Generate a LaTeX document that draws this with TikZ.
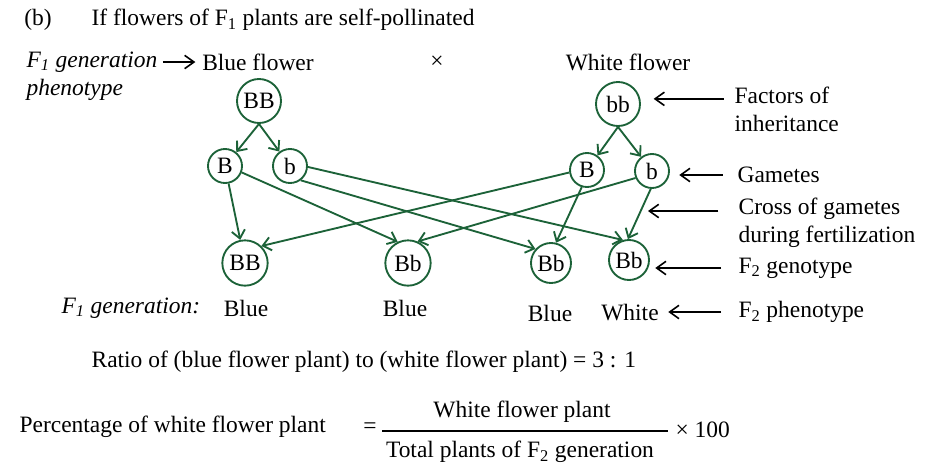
\documentclass[tikz,border=0pt]{standalone}
\usepackage{fontspec}
\setmainfont{LiberationSerif}[Extension=.ttf, UprightFont=*-Regular, ItalicFont=*-Italic, BoldFont=*-Bold, BoldItalicFont=*-BoldItalic]
\usetikzlibrary{arrows.meta,positioning}
\definecolor{gengreen}{RGB}{28,98,56}

\begin{document}
\fontsize{17.6}{21}\selectfont
\begin{tikzpicture}[x=0.75pt, y=-0.75pt,
    every node/.style={inner sep=1pt},
    allele/.style={circle, draw=gengreen, line width=1.4pt, inner sep=0pt, minimum size=#1},
    allele/.default=33pt,
    cross/.style={draw=gengreen, line width=1.4pt, -{Straight Barb[length=6pt,width=10pt]}},
    pointer/.style={line width=1.2pt, -{Straight Barb[length=7pt,width=10pt]}},
    lbl/.style={anchor=west}]
    \useasboundingbox (0,0) rectangle (926,472);

    % heading
    \node (part) at (38,20) {(b)};
    \node[lbl] (title) at (90,20) {If flowers of F\textsubscript{1} plants are self-pollinated};

    % parents
    \node[lbl, font=\itshape] (f1lab) at (25,62) {F\textsubscript{1} generation};
    \node[lbl, font=\itshape] (phen) at (25,90) {phenotype};
    \node (blueflw) at (258,62) {Blue flower};
    \node (times) at (437,62) {×};
    \node (whiteflw) at (628,62) {White flower};
    \node[allele] (pBB) at (259,101) {BB};
    \node[allele] (pbb) at (618,104) {bb};

    % gametes
    \node[allele=25.5pt] (gB1) at (225,166) {B};
    \node[allele=25.5pt] (gb1) at (290,166) {b};
    \node[allele=25.5pt] (gB2) at (587,170) {B};
    \node[allele=25.5pt] (gb2) at (652,171) {b};

    % offspring
    \node[allele=34pt] (oBB) at (245,263) {BB};
    \node[allele=34pt] (oBb1) at (408,263) {Bb};
    \node[allele=30pt] (oBb2) at (551,263) {Bb};
    \node[allele=30pt] (oBb3) at (629,260) {Bb};

    % gamete formation
    \draw[cross] (pBB.south) -- (gB1);
    \draw[cross] (pBB.south) -- (gb1);
    \draw[cross] (pbb.south) -- (gB2);
    \draw[cross] (pbb.south) -- (gb2);

    % fertilization
    \draw[cross] (gB1) -- (oBB);
    \draw[cross] (gB1.-21) -- (oBb1.116);
    \draw[cross] (gb1.-3) -- (oBb3.107);
    \draw[cross] (gb1.-53) -- (oBb2.138);
    \draw[cross] (gB2.188) -- (oBB.46);
    \draw[cross] (gB2.-107) -- (oBb2.76);
    \draw[cross] (gb2.203) -- (oBb1.66);
    \draw[cross] (gb2.-94) -- (oBb3.93);

    % side labels
    \node[anchor=north west, align=left] (factors) at (733,85) {Factors of\\inheritance};
    \node[lbl] (gametes) at (736,175) {Gametes};
    \node[anchor=north west, align=left] (crosslab) at (737,196) {Cross of gametes\\during fertilization};
    \node[lbl] (f2geno) at (737,268) {F\textsubscript{2} genotype};
    \coordinate (crossTip) at (648,211);

    % phenotypes
    \node[lbl, font=\itshape] (f1gen) at (60,308) {F\textsubscript{1} generation:};
    \node (ph1) at (246,308) {Blue};
    \node (ph2) at (405,308) {Blue};
    \node (ph3) at (550,313) {Blue};
    \node (ph4) at (630,313) {White};
    \node[lbl] (f2pheno) at (737,312) {F\textsubscript{2} phenotype};

    % pointers
    \draw[pointer, shorten <=3pt, shorten >=4pt] (f1lab.east) -- (f1lab.east -| blueflw.west);
    \draw[pointer, shorten <=7pt, shorten >=10pt] (factors.west |- pbb.13) -- (pbb.13);
    \draw[pointer, shorten <=10pt, shorten >=7pt] (gametes.west) -- (gametes.west -| gb2.east);
    \draw[pointer, shorten <=14pt] (crosslab.north west |- crossTip) -- (crossTip);
    \draw[pointer, shorten <=12pt, shorten >=4pt] (f2geno.west) -- (f2geno.west -| oBb3.east);
    \draw[pointer, shorten <=12pt, shorten >=6pt] (f2pheno.west) -- (f2pheno.west -| ph4.east);

    % ratio and percentage
    \node[lbl] (ratio) at (90,362) {Ratio of (blue flower plant) to (white flower plant) = 3 : 1};
    \node[lbl] (percent) at (18,427) {Percentage of white flower plant};
    \node (eq) at (370,428) {=};
    \node (fracnum) at (522,412) {White flower plant};
    \node (fracden) at (520,452) {Total plants of F\textsubscript{2} generation};
    \coordinate (barL) at (382,431);
    \coordinate (barR) at (668,431);
    \draw[line width=1.1pt] (barL) -- (barR);
    \node[lbl] (hundred) at (674,430) {× 100};
\end{tikzpicture}
\end{document}
